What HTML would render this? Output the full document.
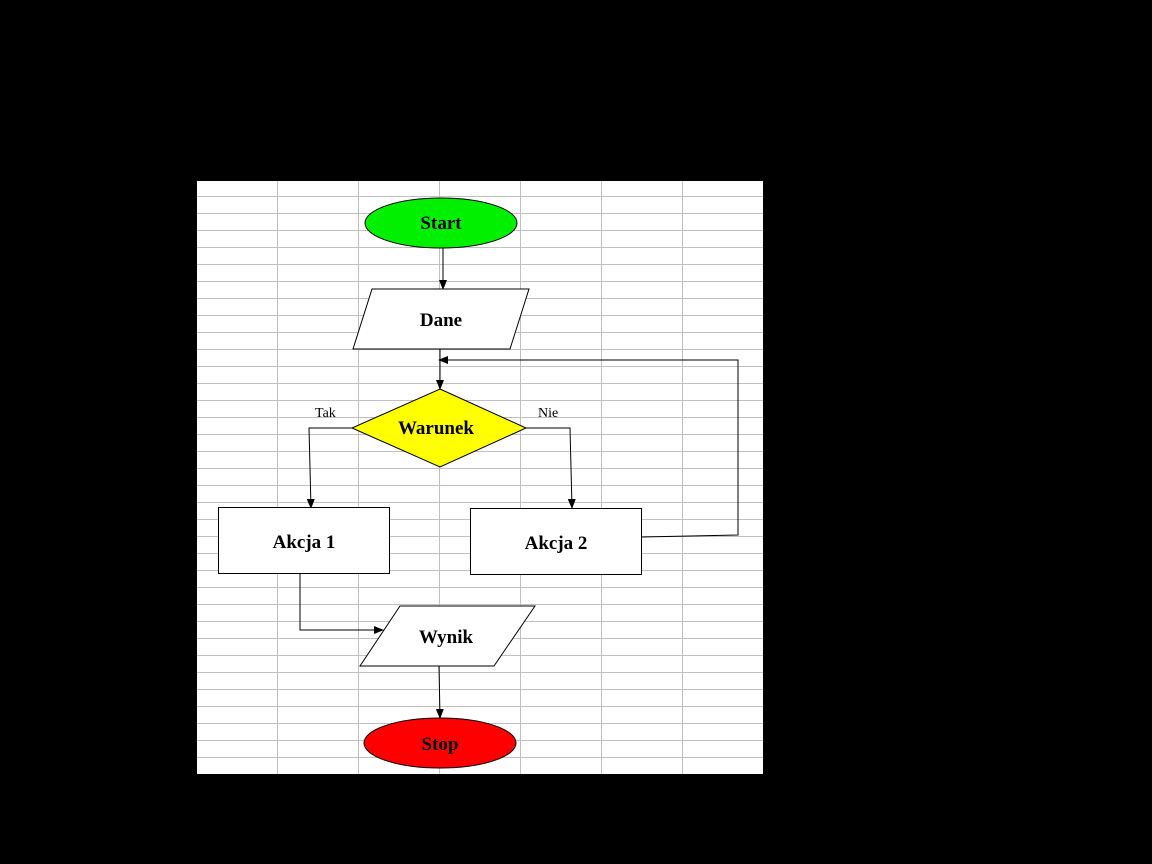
<!DOCTYPE html>
<html><head><meta charset="utf-8"><style>
html,body{margin:0;padding:0;background:#000;}
body{width:1152px;height:864px;overflow:hidden;}
svg{display:block;}
</style></head><body>
<svg width="1152" height="864" viewBox="0 0 1152 864" xmlns="http://www.w3.org/2000/svg">
<defs>
<pattern id="g" x="197" y="179" width="81" height="17" patternUnits="userSpaceOnUse">
<rect width="81" height="17" fill="#fff"/>
<line x1="0" y1="0.5" x2="81" y2="0.5" stroke="#c0c0c0" stroke-width="1"/>
<line x1="80.5" y1="0" x2="80.5" y2="17" stroke="#c0c0c0" stroke-width="1"/>
</pattern>
<marker id="a" markerWidth="10" markerHeight="8" refX="9" refY="4" orient="auto" markerUnits="userSpaceOnUse">
<path d="M0,0 L10,4 L0,8 z" fill="#000"/>
</marker>
</defs>
<rect x="0" y="0" width="1152" height="864" fill="#000"/>
<rect x="197" y="181" width="566" height="593" fill="url(#g)"/>
<g stroke="#000" stroke-width="1" fill="none" font-family="Liberation Serif, serif">
<line x1="443" y1="248" x2="443" y2="289" marker-end="url(#a)"/>
<line x1="440" y1="349" x2="440" y2="389" marker-end="url(#a)"/>
<polyline points="642,537 738,535 738,360 439,360" marker-end="url(#a)"/>
<polyline points="352,428 309,428 311,508" marker-end="url(#a)"/>
<polyline points="526,428 570,428 572,508" marker-end="url(#a)"/>
<polyline points="300,573 300,630 383,630" marker-end="url(#a)"/>
<line x1="439" y1="666" x2="440" y2="718" marker-end="url(#a)"/>
<ellipse cx="441" cy="223" rx="76" ry="25" fill="#00f000"/>
<polygon points="372,289 529,289 510,349 353,349" fill="#fff"/>
<polygon points="440,389 526,428 440,467 352,428" fill="#ffff00"/>
<rect x="218.5" y="507.5" width="171" height="66" fill="#fff"/>
<rect x="470.5" y="508.5" width="171" height="66" fill="#fff"/>
<polygon points="400,606 535,606 494,666 360,666" fill="#fff"/>
<ellipse cx="440" cy="743" rx="76" ry="25" fill="#ff0000"/>
</g>
<g font-family="Liberation Serif, serif" font-weight="bold" font-size="19" text-anchor="middle" fill="#000">
<text x="441" y="229">Start</text>
<text x="441" y="326">Dane</text>
<text x="436" y="434">Warunek</text>
<text x="304" y="548">Akcja 1</text>
<text x="556" y="549">Akcja 2</text>
<text x="446" y="643">Wynik</text>
<text x="440" y="750">Stop</text>
</g>
<g font-family="Liberation Serif, serif" font-size="14" fill="#000">
<text x="315" y="417">Tak</text>
<text x="538" y="417">Nie</text>
</g>
</svg>
</body></html>
